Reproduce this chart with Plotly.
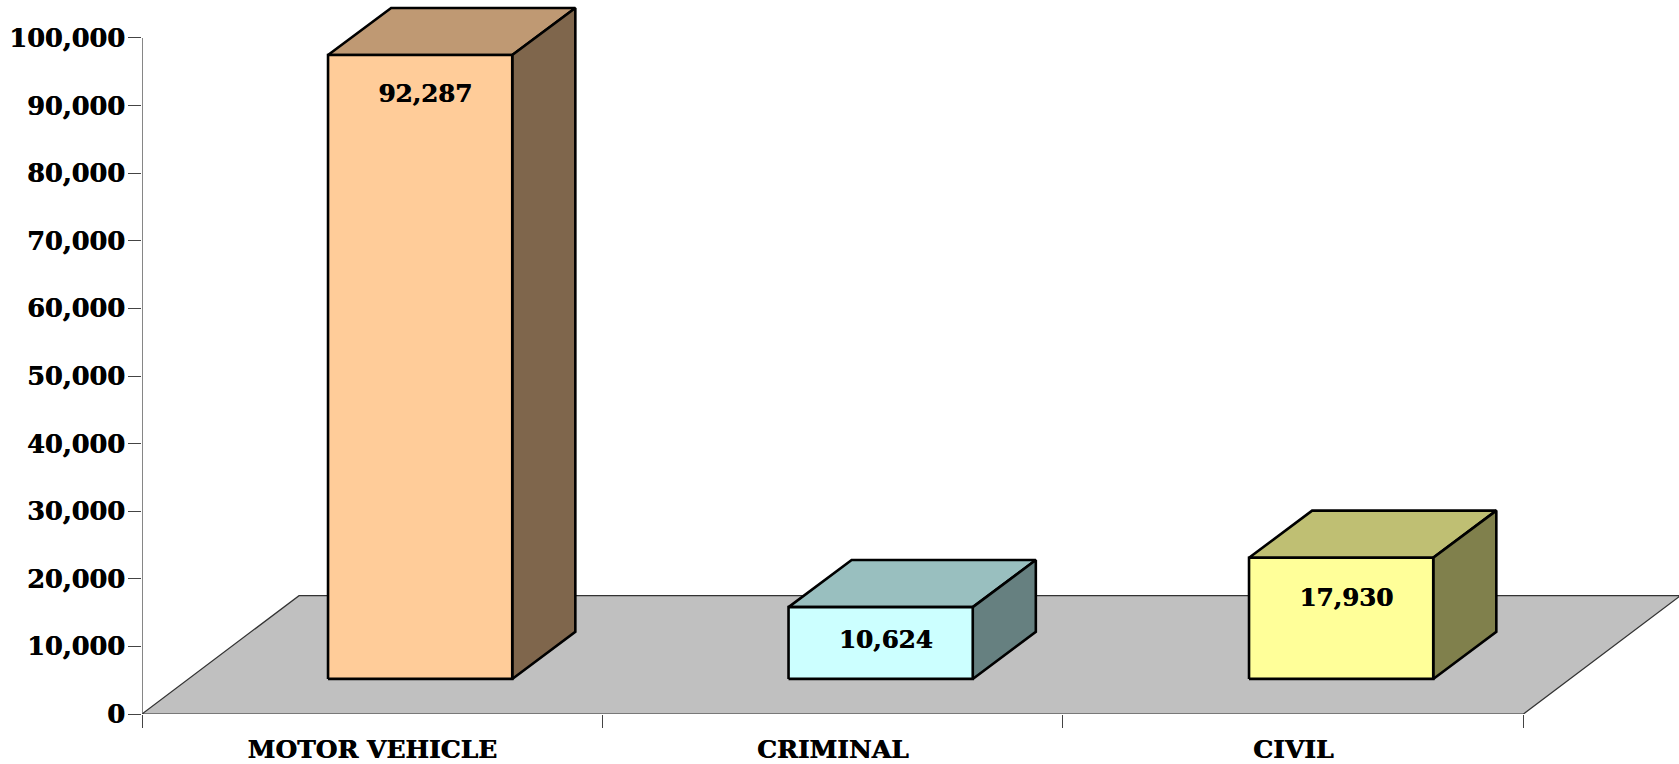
import plotly.graph_objects as go

categories = ["MOTOR VEHICLE", "CRIMINAL", "CIVIL"]
values = [92287, 10624, 17930]
front_colors = ["#FFCC99", "#CCFFFF", "#FFFF99"]
top_colors = ["#BF9973", "#99BFBF", "#BFBF73"]
side_colors = ["#7F664C", "#668080", "#80804C"]
y_ticks = [0, 10000, 20000, 30000, 40000, 50000, 60000, 70000, 80000, 90000, 100000]

# fake 3d geometry, in axis units
floor_dx = 0.341
floor_dy = 17500
bar_left = 0.404
bar_width = 0.4
bar_base = 5190
bar_dx = 0.137
bar_dy = 6970
label_drop = [6070, 5080, 6280]

FONT = "DejaVu Serif"
HEAVY = "0.6px 0 0 #000000"  # the original face is heavier than DejaVu bold


def face(fig, xs, ys, color, width=2.6, line_color="#000000"):
    fig.add_trace(go.Scatter(x=xs + xs[:1], y=ys + ys[:1], mode="lines", fill="toself",
                             fillcolor=color, line=dict(color=line_color, width=width),
                             hoverinfo="skip", showlegend=False))


fig = go.Figure()

# floor
face(fig, [0, 3, 3 + floor_dx, floor_dx], [0, 0, floor_dy, floor_dy], "#C0C0C0", 1.2, "#333333")

# axis line stops at 100,000
fig.add_trace(go.Scatter(x=[0, 0], y=[0, 100000], mode="lines", line=dict(color="#444444", width=1.3),
                         hoverinfo="skip", showlegend=False))

for i, v in enumerate(values):
    x0 = i + bar_left
    x1 = x0 + bar_width
    y0 = bar_base
    y1 = bar_base + v
    face(fig, [x0, x1, x1 + bar_dx, x0 + bar_dx], [y1, y1, y1 + bar_dy, y1 + bar_dy], top_colors[i])
    face(fig, [x1, x1 + bar_dx, x1 + bar_dx, x1], [y0, y0 + bar_dy, y1 + bar_dy, y1], side_colors[i])
    face(fig, [x0, x1, x1, x0], [y0, y0, y1, y1], front_colors[i])

fig.add_trace(go.Scatter(
    x=[i + bar_left + 0.211 for i in range(len(values))],
    y=[bar_base + v - d for v, d in zip(values, label_drop)],
    text=[f"{v:,}" for v in values],
    mode="text", textposition="middle center",
    textfont=dict(family=FONT, size=24.5, color="#000000", weight="bold", shadow=HEAVY),
    hoverinfo="skip", showlegend=False,
))

fig.update_layout(
    width=1679, height=764,
    autosize=False,
    margin=dict(l=142, r=0, t=0, b=50),
    paper_bgcolor="white", plot_bgcolor="white",
    showlegend=False,
    font=dict(family=FONT, color="#000000"),
)
fig.update_xaxes(
    range=[0, 3.3377], showgrid=False, zeroline=False, showline=False,
    tickvals=[0.5, 1.5, 2.5], ticktext=categories, ticks="", ticklabelstandoff=18,
    tickfont=dict(family=FONT, size=25, color="#000000", weight="bold", shadow=HEAVY),
    minor=dict(tickvals=[0, 1, 2, 3], ticks="outside", ticklen=13, tickwidth=1.3, tickcolor="#444444"),
)
fig.update_yaxes(
    range=[0, 105620], showgrid=False, zeroline=False, showline=False,
    tickvals=y_ticks, tickformat=",d", ticks="outside", ticklen=13, tickwidth=1.3, tickcolor="#444444",
    ticklabelstandoff=-2,
    tickfont=dict(family=FONT, size=25.6, color="#000000", weight="bold", shadow=HEAVY),
)

# the page's default body margin would push the figure 8px in
fig.write_html("out.html", config={"displayModeBar": False},
               post_script="document.body.style.margin = '0';")
